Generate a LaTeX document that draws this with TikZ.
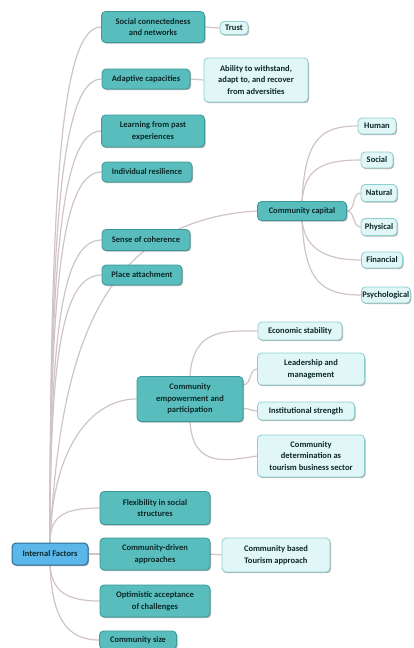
\documentclass[tikz,border=0pt]{standalone}
\usepackage{fontspec}
\setmainfont{Carlito}
\usetikzlibrary{shadows,calc}
\pgfdeclarelayer{back}
\pgfdeclarelayer{bg}
\pgfsetlayers{back,bg,main}
\definecolor{tealf}{HTML}{5ABDBD}
\definecolor{teald}{HTML}{3A9898}
\definecolor{lightf}{HTML}{E0F6F7}
\definecolor{lightd}{HTML}{8CCFCF}
\definecolor{rootf}{HTML}{5BB6EA}
\definecolor{rootd}{HTML}{2B6E98}
\definecolor{conncol}{HTML}{D0C4C6}
\definecolor{txt}{HTML}{0C2828}
\begin{document}
\begin{tikzpicture}[x=1pt,y=-1pt,
 base/.style={rounded corners=4pt, font=\fontsize{8.5}{11.5}\selectfont\bfseries, text=txt, align=center, inner sep=1pt,
   drop shadow={shadow xshift=1pt,shadow yshift=-1.2pt,opacity=0.3,fill=black}},
 main/.style={base, fill=tealf, draw=teald, line width=0.8pt},
 leaf/.style={base, fill=lightf, draw=lightd, line width=0.8pt},
 rootbox/.style={base, fill=rootf, draw=rootd, line width=1pt},
 conn/.style={draw=conncol, line width=1.2pt},
]
\begin{pgfonlayer}{back}
\fill[white] (0,0) rectangle (414,648);
\end{pgfonlayer}
\useasboundingbox (0,0) rectangle (414,648);

\node[main, minimum width=103, minimum height=31] (soc) at (153,27) {Social connectedness\\and networks};
\node[leaf, minimum width=28, minimum height=13] (trust) at (234,28) {Trust};
\node[main, minimum width=88, minimum height=20] (adapt) at (146,79) {Adaptive capacities};
\node[leaf, minimum width=104, minimum height=44] (ability) at (256,80) {Ability to withstand,\\adapt to, and recover\\from adversities};
\node[main, minimum width=103, minimum height=32] (learn) at (153,131) {Learning from past\\experiences};
\node[main, minimum width=90, minimum height=20] (indiv) at (147,172) {Individual resilience};
\node[main, minimum width=88, minimum height=21] (sense) at (146,240) {Sense of coherence};
\node[main, minimum width=80, minimum height=20] (place) at (142,275) {Place attachment};
\node[main, minimum width=89, minimum height=19] (capital) at (302,211) {Community capital};
\node[leaf, minimum width=38, minimum height=16] (human) at (377,126) {Human};
\node[leaf, minimum width=32, minimum height=16] (social) at (377,160) {Social};
\node[leaf, minimum width=36, minimum height=17] (natural) at (379,193) {Natural};
\node[leaf, minimum width=36, minimum height=17] (physical) at (379,227) {Physical};
\node[leaf, minimum width=41, minimum height=16] (financial) at (382,260) {Financial};
\node[leaf, minimum height=16, anchor=west] (psych) at (361,295) {Psychological};
\node[leaf, minimum width=84, minimum height=18] (econ) at (300,331) {Economic stability};
\node[leaf, minimum width=107, minimum height=32] (lead) at (311,369) {Leadership and\\management};
\node[leaf, minimum width=97, minimum height=18] (inst) at (306,411) {Institutional strength};
\node[leaf, minimum width=107, minimum height=42] (determ) at (311,456) {Community\\determination as\\tourism business sector};
\node[main, minimum width=106, minimum height=45] (empow) at (190,399) {Community\\empowerment and\\participation};
\node[rootbox, minimum width=76, minimum height=22] (root) at (50,554) {Internal Factors};
\node[main, minimum width=110, minimum height=33] (flex) at (155,508) {Flexibility in social\\structures};
\node[main, minimum width=110, minimum height=32] (cdriven) at (155,554) {Community-driven\\approaches};
\node[main, minimum width=110, minimum height=32] (optim) at (155,601) {Optimistic acceptance\\of challenges};
\node[main, minimum width=77, minimum height=18] (size) at (138,640) {Community size};
\node[leaf, minimum width=108, minimum height=34] (cbt) at (276,555) {Community based\\Tourism approach};

\begin{pgfonlayer}{bg}
\foreach \n in {soc,adapt,learn,indiv,sense,place,flex}
  \draw[conn] (root.north) .. controls ($(root.north)!0.72!(root.north|-\n.west)$) and ($(\n.west)+(-38,0)$) .. (\n.west);
\draw[conn] (root.north) .. controls (60,350) and (100,220) .. (capital.west);
\draw[conn] (root.north) .. controls (52,450) and (90,399) .. (empow.west);
\draw[conn] (root.south) .. controls (52,590) and (65,601) .. (optim.west);
\draw[conn] (root.south) .. controls (52,615) and (65,640) .. (size.west);
\draw[conn] (root.east) -- (cdriven.west);
\draw[conn] (soc.east) -- (trust.west);
\draw[conn] (adapt.east) -- (ability.west);
\draw[conn] (cdriven.east) -- (cbt.west);
\draw[conn] (capital.north) .. controls (305,140) and (320,126) .. (human.west);
\draw[conn] (capital.north) .. controls (305,170) and (320,160) .. (social.west);
\draw[conn] (capital.east) to[out=0,in=180] (natural.west);
\draw[conn] (capital.east) to[out=0,in=180] (physical.west);
\draw[conn] (capital.south) .. controls (305,245) and (320,260) .. (financial.west);
\draw[conn] (capital.south) .. controls (305,280) and (320,295) .. (psych.west);
\draw[conn] (empow.north) .. controls (193,328) and (225,331) .. (econ.west);
\draw[conn] (empow.15) to[out=0,in=180] (lead.west);
\draw[conn] (empow.-10) to[out=0,in=180] (inst.west);
\draw[conn] (empow.south) .. controls (193,470) and (230,460) .. (determ.west);
\end{pgfonlayer}
\end{tikzpicture}
\end{document}
